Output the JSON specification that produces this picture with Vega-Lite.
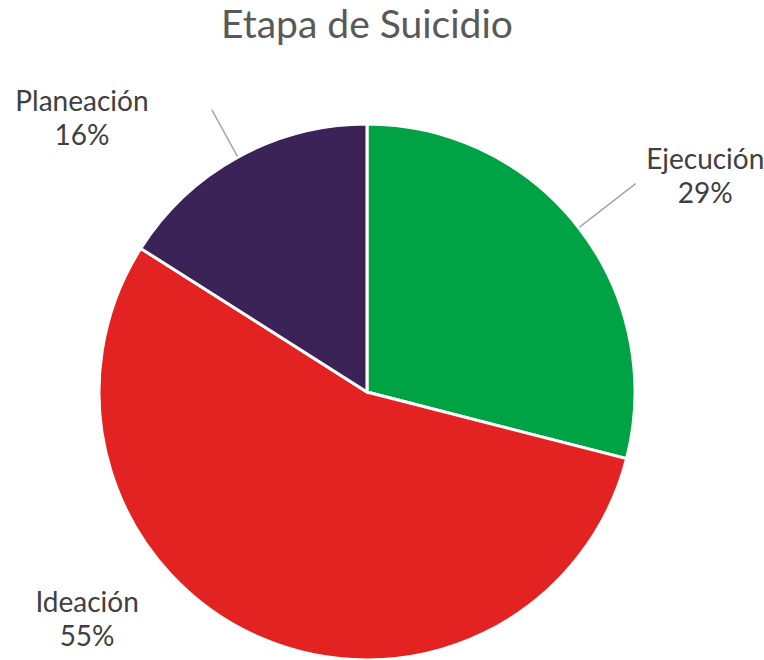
{
  "$schema": "https://vega.github.io/schema/vega-lite/v6.json",
  "width": 734,
  "height": 536,
  "autosize": {"type": "none"},
  "padding": {"top": 124, "left": 0, "right": 30, "bottom": 0},
  "background": "white",
  "title": {
    "text": "Etapa de Suicidio",
    "font": "Lato",
    "fontSize": 39,
    "fontWeight": "normal",
    "color": "#595959",
    "anchor": "middle",
    "frame": "group",
    "offset": 43
  },
  "data": {
    "values": [
      {"etapa": "Ejecución", "porcentaje": 29, "orden": 1},
      {"etapa": "Ideación", "porcentaje": 55, "orden": 2},
      {"etapa": "Planeación", "porcentaje": 16, "orden": 3}
    ]
  },
  "transform": [
    {"stack": "porcentaje", "groupby": [], "sort": [{"field": "orden"}], "as": ["inicio", "fin"]},
    {"calculate": "(datum.inicio + datum.fin) / 2", "as": "medio"},
    {"calculate": "datum.etapa + '\\n' + datum.porcentaje + '%'", "as": "etiqueta"}
  ],
  "layer": [
    {
      "mark": {"type": "arc", "radius": 268, "stroke": "white", "strokeWidth": 3},
      "encoding": {
        "theta": {"field": "inicio", "type": "quantitative", "scale": {"domain": [0, 100]}, "stack": null},
        "theta2": {"field": "fin"},
        "color": {
          "field": "etapa",
          "type": "nominal",
          "scale": {"domain": ["Ejecución", "Ideación", "Planeación"], "range": ["#00A344", "#E32321", "#3B2257"]},
          "legend": null
        }
      }
    },
    {
      "transform": [{"filter": "datum.etapa === 'Ejecución'"}],
      "mark": {"type": "arc", "radius": 340, "radius2": 269, "padAngle": 3, "fill": null, "fillOpacity": 0, "stroke": "#A6A6A6", "strokeWidth": 1.5},
      "encoding": {
        "theta": {"field": "inicio", "type": "quantitative", "stack": null},
        "theta2": {"field": "fin"}
      }
    },
    {
      "transform": [{"filter": "datum.etapa === 'Planeación'"}],
      "mark": {"type": "arc", "radius": 322, "radius2": 269, "padAngle": 3, "fill": null, "fillOpacity": 0, "stroke": "#A6A6A6", "strokeWidth": 1.5},
      "encoding": {
        "theta": {"field": "inicio", "type": "quantitative", "stack": null},
        "theta2": {"field": "fin"}
      }
    },
    {
      "transform": [{"filter": "datum.etapa === 'Ejecución'"}],
      "mark": {"type": "text", "radius": 380, "dx": 38, "dy": 2, "font": "Lato", "fontSize": 28, "lineHeight": 34, "color": "#404040", "align": "center", "baseline": "middle", "lineBreak": "\n"},
      "encoding": {
        "theta": {"field": "medio", "type": "quantitative", "stack": null},
        "text": {"field": "etiqueta"}
      }
    },
    {
      "transform": [{"filter": "datum.etapa === 'Ideación'"}],
      "mark": {"type": "text", "radius": 380, "dx": -129, "dy": -137, "font": "Lato", "fontSize": 28, "lineHeight": 34, "color": "#404040", "align": "center", "baseline": "middle", "lineBreak": "\n"},
      "encoding": {
        "theta": {"field": "medio", "type": "quantitative", "stack": null},
        "text": {"field": "etiqueta"}
      }
    },
    {
      "transform": [{"filter": "datum.etapa === 'Planeación'"}],
      "mark": {"type": "text", "radius": 380, "dx": -102, "dy": 44, "font": "Lato", "fontSize": 28, "lineHeight": 34, "color": "#404040", "align": "center", "baseline": "middle", "lineBreak": "\n"},
      "encoding": {
        "theta": {"field": "medio", "type": "quantitative", "stack": null},
        "text": {"field": "etiqueta"}
      }
    }
  ],
  "config": {"view": {"stroke": null}}
}
